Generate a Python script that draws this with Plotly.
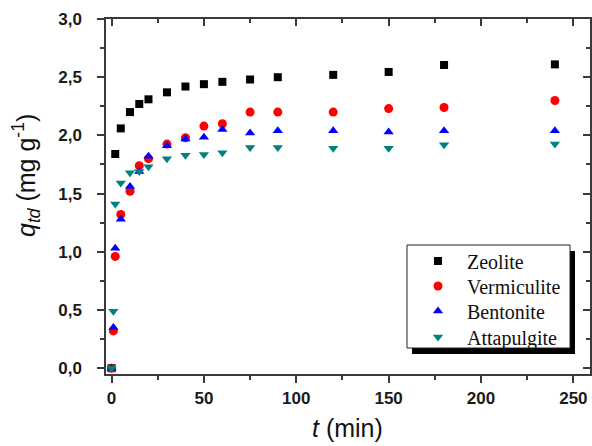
import plotly.graph_objects as go

# ---- data ----
t_zeolite = [0, 2, 5, 10, 15, 20, 30, 40, 50, 60, 75, 90, 120, 150, 180, 240]
q_zeolite = [0.0, 1.84, 2.06, 2.20, 2.27, 2.31, 2.37, 2.42, 2.44, 2.46, 2.48, 2.50, 2.52, 2.545, 2.605, 2.61]

t_other = [0, 1, 2, 5, 10, 15, 20, 30, 40, 50, 60, 75, 90, 120, 150, 180, 240]
q_vermiculite = [0.0, 0.32, 0.96, 1.32, 1.52, 1.74, 1.80, 1.925, 1.98, 2.08, 2.10, 2.20, 2.20, 2.20, 2.23, 2.24, 2.30]
q_bentonite = [0.0, 0.35, 1.03, 1.28, 1.56, 1.69, 1.82, 1.91, 1.97, 1.985, 2.05, 2.02, 2.04, 2.04, 2.03, 2.04, 2.04]
q_attapulgite = [0.0, 0.49, 1.41, 1.59, 1.68, 1.69, 1.73, 1.80, 1.83, 1.835, 1.85, 1.895, 1.895, 1.89, 1.89, 1.92, 1.925]

series = [
    ("Zeolite", t_zeolite, q_zeolite, "square", "#000000", 8),
    ("Vermiculite", t_other, q_vermiculite, "circle", "#ff0000", 9),
    ("Bentonite", t_other, q_bentonite, "triangle-up", "#0000ff", 9),
    ("Attapulgite", t_other, q_attapulgite, "triangle-down", "#008080", 9),
]

# plot area in pixels
L, R, T, B = 106, 590, 19, 374
W, H = 592, 446
pw, ph = R - L, B - T

def px(x):
    return (x - L) / pw

def py(y):
    return (B - y) / ph

legend_ids = ["legend", "legend2", "legend3", "legend4"]
legend_rows = [261, 286, 311, 337]

fig = go.Figure()
for i, (name, tx, qy, sym, col, sz) in enumerate(series):
    fig.add_trace(go.Scatter(
        x=tx, y=qy, mode="markers", name=name, legend=legend_ids[i],
        marker=dict(symbol=sym, color=col, size=sz, line=dict(width=0)),
    ))

# dummy trace for mirrored axes
fig.add_trace(go.Scatter(x=[None], y=[None], xaxis="x2", yaxis="y2",
                         showlegend=False, hoverinfo="skip"))

axis_col = "#3a3a3a"
tickfont = dict(family="Liberation Sans", size=17, color="#1a1a1a", weight="bold")

xr = [-3, 259]
yr = [-0.05, 3.0]

legend_common = dict(xanchor="left", yanchor="middle", bgcolor="rgba(0,0,0,0)",
                     borderwidth=0, itemwidth=48,
                     font=dict(family="Liberation Serif", size=20, color="#111111"))
legends = {}
for lid, row in zip(legend_ids, legend_rows):
    legends[lid] = dict(x=px(409), y=py(row), **legend_common)

fig.update_layout(
    width=W, height=H,
    margin=dict(l=L, r=W - R, t=T, b=H - B),
    plot_bgcolor="white", paper_bgcolor="white",
    separators=", ",
    xaxis=dict(range=xr, dtick=50, tick0=0, ticks="outside", ticklen=7, tickwidth=1.5,
               tickcolor=axis_col, showline=True, linecolor=axis_col, linewidth=1.5,
               showgrid=False, zeroline=False, tickfont=tickfont, ticklabelstandoff=1,
               minor=dict(dtick=25, ticks="outside", ticklen=4, tickwidth=1.5, tickcolor=axis_col)),
    yaxis=dict(range=yr, dtick=0.5, tick0=0, tickformat=".1f", ticks="outside", ticklen=7,
               tickwidth=1.5, tickcolor=axis_col, showline=True, linecolor=axis_col, linewidth=1.5,
               showgrid=False, zeroline=False, tickfont=tickfont, ticklabelstandoff=12,
               minor=dict(dtick=0.25, ticks="outside", ticklen=4, tickwidth=1.5, tickcolor=axis_col)),
    xaxis2=dict(range=xr, overlaying="x", side="top", anchor="y", dtick=50, tick0=0,
                ticks="inside", ticklen=7, tickwidth=1.5, tickcolor=axis_col, showline=True,
                linecolor=axis_col, linewidth=1.5, showticklabels=False, showgrid=False,
                zeroline=False,
                minor=dict(dtick=25, ticks="inside", ticklen=4, tickwidth=1.5, tickcolor=axis_col)),
    yaxis2=dict(range=yr, overlaying="y", side="right", anchor="x", dtick=0.5, tick0=0,
                ticks="inside", ticklen=7, tickwidth=1.5, tickcolor=axis_col, showline=True,
                linecolor=axis_col, linewidth=1.5, showticklabels=False, showgrid=False,
                zeroline=False,
                minor=dict(dtick=0.25, ticks="inside", ticklen=4, tickwidth=1.5, tickcolor=axis_col)),
    showlegend=True,
    **legends,
)

# legend box with shadow
fig.add_shape(type="rect", xref="paper", yref="paper",
              x0=px(412), x1=px(575), y0=py(354), y1=py(251),
              fillcolor="black", line=dict(width=0), layer="above")
fig.add_shape(type="rect", xref="paper", yref="paper",
              x0=px(407), x1=px(570), y0=py(348), y1=py(245),
              fillcolor="white", line=dict(color="#222222", width=1), layer="above")

# axis titles
fig.add_annotation(text="<i>q</i><sub><i>td</i></sub> (mg g<sup>-1</sup>)",
                   xref="paper", yref="paper", x=px(26), y=py(176),
                   xanchor="center", yanchor="middle",
                   textangle=-90, showarrow=False,
                   font=dict(family="Liberation Sans", size=25, color="#111111"))
fig.add_annotation(text="<i>t</i> (min)", xref="paper", yref="paper",
                   x=px(347), y=py(428), xanchor="center", yanchor="middle",
                   showarrow=False,
                   font=dict(family="Liberation Sans", size=25, color="#111111"))

fig.write_html("out.html")
